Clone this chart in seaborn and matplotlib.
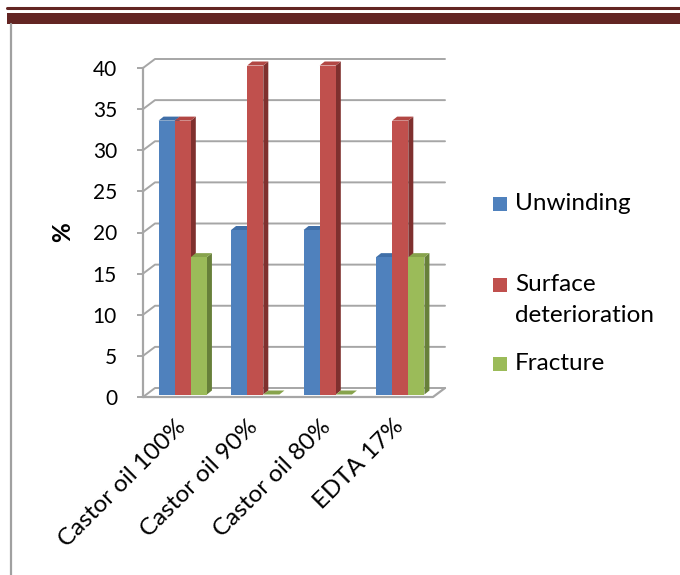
import numpy as np
import pandas as pd
import matplotlib
matplotlib.use("Agg")
import matplotlib.pyplot as plt
import seaborn as sns
from matplotlib.patches import Polygon, Rectangle
from matplotlib.lines import Line2D
from matplotlib.transforms import ScaledTranslation

# ---- data -------------------------------------------------------------
materials = ["Castor oil 100%", "Castor oil 90%", "Castor oil 80%", "EDTA 17%"]
series = ["Unwinding", "Surface deterioration", "Fracture"]
unwinding = [33.3, 20.0, 20.0, 16.7]
surface_det = [33.3, 40.0, 40.0, 33.3]
fracture = [16.7, 0.0, 0.0, 16.7]
y_ticks = [0, 5, 10, 15, 20, 25, 30, 35, 40]
legend_labels = ["Unwinding", "Surface\ndeterioration", "Fracture"]

df = pd.DataFrame({
    "Material": materials * 3,
    "Type": np.repeat(series, len(materials)),
    "Value": unwinding + surface_det + fracture,
})

# ---- styling ----------------------------------------------------------
face_cols = ["#4f81bd", "#c0504d", "#9bbb59"]
side_cols = ["#375d8c", "#7f302e", "#67803a"]
top_cols = ["#406fa8", "#b24744", "#87a34c"]
grid_col = "#a6a6a6"
frame_red = "#632523"
tick_fs = 15
text_fs = 17.5

sns.set_theme(style="white")
plt.rcParams["font.family"] = ["Lato", "DejaVu Sans"]

W, H, DPI = 680, 575, 100
fig = plt.figure(figsize=(W / DPI, H / DPI), dpi=DPI)

# front plane of the plot area, in pixels
px_left, px_right, px_bottom, px_top = 143, 433, 397, 68
ax = fig.add_axes([px_left / W, 1 - px_bottom / H,
                   (px_right - px_left) / W, (px_bottom - px_top) / H])

sns.barplot(data=df, x="Material", y="Value", hue="Type", order=materials,
            hue_order=series, palette=face_cols, saturation=1, width=0.667,
            linewidth=0, legend=False, ax=ax, errorbar=None)

ax.set_xlim(-0.5, len(materials) - 0.5)
ax.set_ylim(0, 40)

# pixel -> data scale factors
p0 = ax.transData.transform((0, 0))
p1 = ax.transData.transform((1, 1))
sx, sy = p1[0] - p0[0], p1[1] - p0[1]

# depth of the chart walls and of the columns, in pixels
wall_dx, wall_dy = 12, 9
bar_dx, bar_dy = 5, 4
wdx, wdy = wall_dx / sx, wall_dy / sy
bdx, bdy = bar_dx / sx, bar_dy / sy
x_lo, x_hi = ax.get_xlim()

# back wall gridlines with side-wall diagonals
for v in y_ticks:
    ax.add_line(Line2D([x_lo, x_lo + wdx, x_hi + wdx], [v, v + wdy, v + wdy],
                       color=grid_col, lw=1.4, zorder=1, clip_on=False))
# floor outline
ax.add_line(Line2D([x_lo, x_hi, x_hi + wdx], [0, 0, wdy],
                   color=grid_col, lw=1.6, zorder=1, clip_on=False))

# columns sit in the middle of the floor depth
shift = ax.transData + ScaledTranslation(3.5 / DPI, 2.5 / DPI, fig.dpi_scale_trans)

n_cat = len(materials)
for i, patch in enumerate(list(ax.patches)):
    k = i // n_cat
    x0 = patch.get_x()
    x1 = x0 + patch.get_width()
    h = patch.get_height()
    if np.isnan(h):
        h = 0.0
    base_z = 3 + 3 * k
    side = Polygon([(x1, 0), (x1 + bdx, bdy), (x1 + bdx, h + bdy), (x1, h)],
                   closed=True, facecolor=side_cols[k], edgecolor="none",
                   transform=shift, zorder=base_z, clip_on=False)
    top = Polygon([(x0, h), (x0 + bdx, h + bdy), (x1 + bdx, h + bdy), (x1, h)],
                  closed=True, facecolor=top_cols[k], edgecolor="none",
                  transform=shift, zorder=base_z + 1, clip_on=False)
    ax.add_patch(side)
    ax.add_patch(top)
    patch.set_transform(shift)
    patch.set_zorder(base_z + 2)
    patch.set_clip_on(False)

# axes, ticks and labels
for s in ["top", "right"]:
    ax.spines[s].set_visible(False)
ax.spines["left"].set_color(grid_col)
ax.spines["left"].set_linewidth(1.6)
ax.spines["bottom"].set_visible(False)

ax.set_yticks(y_ticks)
ax.set_yticklabels([str(v) for v in y_ticks])
ax.tick_params(axis="y", left=True, length=6 * 72 / DPI, width=1.4,
               color=grid_col, pad=20 * 72 / DPI, labelsize=tick_fs,
               labelcolor="black")
ax.tick_params(axis="x", bottom=False, length=0, pad=26 * 72 / DPI,
               labelsize=text_fs, labelcolor="black")
ax.set_xticks(range(n_cat))
ax.set_xticklabels(materials, rotation=45, ha="right", va="center",
                   rotation_mode="anchor")
for lab in ax.get_xticklabels():
    lab.set_transform(lab.get_transform() + ScaledTranslation(3 / DPI, 0, fig.dpi_scale_trans))

ax.set_xlabel("")
ax.set_ylabel("%", fontsize=text_fs, fontweight="bold", color="black")
ax.yaxis.set_label_coords((74 - px_left) / (px_right - px_left), 0.5)

# legend
leg_y = [204, 300, 364]
mark_y = [204, 285, 364]
for lbl, col, ty, my in zip(legend_labels, face_cols, leg_y, mark_y):
    fig.patches.append(Rectangle((493 / W, 1 - (my + 7) / H), 14 / W, 14 / H,
                                 transform=fig.transFigure, facecolor=col,
                                 edgecolor="none"))
    fig.text(515 / W, 1 - ty / H, lbl, fontsize=text_fs, va="center", ha="left",
             linespacing=1.55, color="black")

# page decoration: header rules and left margin rule
fig.lines.append(Line2D([7 / W, 1], [1 - 8 / H] * 2, transform=fig.transFigure,
                        color=frame_red, lw=2.2))
fig.patches.append(Rectangle((7 / W, 1 - 24 / H), 1, 11 / H,
                             transform=fig.transFigure, facecolor=frame_red,
                             edgecolor="none"))
fig.lines.append(Line2D([11 / W, 11 / W], [0, 1 - 24 / H], transform=fig.transFigure,
                        color="#a0a0a0", lw=1.6))

fig.savefig("out.png", dpi=DPI)
